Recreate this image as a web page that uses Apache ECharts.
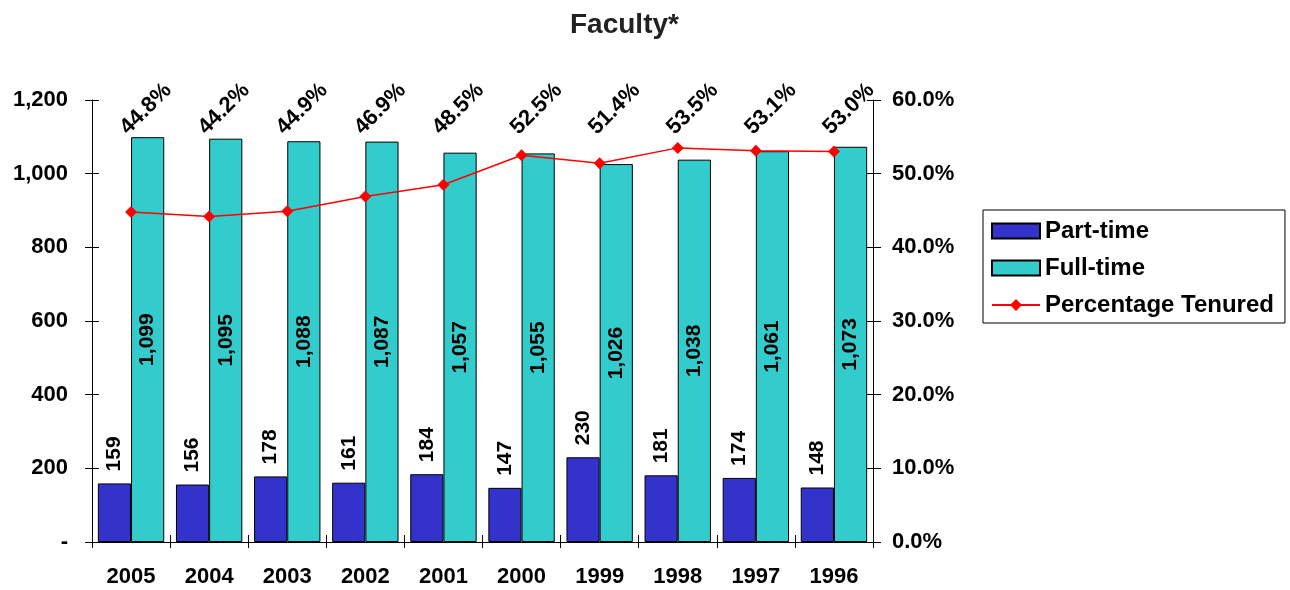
<!DOCTYPE html>
<html>
<head>
<meta charset="utf-8">
<script src="https://cdn.jsdelivr.net/npm/echarts@6/dist/echarts.min.js"></script>
<style>
html,body{margin:0;padding:0;background:#fff;}
#chart{width:1290px;height:590px;}
</style>
</head>
<body>
<div id="chart"></div>
<script>
const years = ['2005','2004','2003','2002','2001','2000','1999','1998','1997','1996'];
const partTime = [159,156,178,161,184,147,230,181,174,148];
const fullTime = [1099,1095,1088,1087,1057,1055,1026,1038,1061,1073];
const tenured = [44.8,44.2,44.9,46.9,48.5,52.5,51.4,53.5,53.1,53.0];
const leftTicks = [0,200,400,600,800,1000,1200];
const rightTicks = [0,10,20,30,40,50,60];

const FONT = 'Liberation Sans, Arial, sans-serif';
const fmtNum = v => v === 0 ? '-' : v.toLocaleString('en-US');

const chart = echarts.init(document.getElementById('chart'));
chart.setOption({
  animation: false,
  backgroundColor: '#ffffff',
  textStyle: {fontFamily: FONT},
  title: {
    text: 'Faculty*', left: 565, top: 6,
    textStyle: {fontFamily: FONT, fontSize: 28, fontWeight: 'bold', color: '#222'}
  },
  legend: {
    data: [
      {name: 'Part-time', icon: 'rect'},
      {name: 'Full-time', icon: 'rect'},
      {name: 'Percentage Tenured'}
    ],
    orient: 'vertical', left: 983, top: 210,
    padding: [8, 11, 5, 8],
    itemGap: 11, itemWidth: 48, itemHeight: 15,
    borderColor: '#000', borderWidth: 1,
    textStyle: {fontFamily: FONT, fontSize: 24, fontWeight: 'bold', color: '#000', lineHeight: 26}
  },
  grid: {left: 92, right: 417, top: 100, bottom: 48, containLabel: false},
  xAxis: [{
    type: 'category', data: years,
    axisLine: {lineStyle: {color: '#000', width: 1}},
    axisTick: {show: true, length: 6, lineStyle: {color: '#000'}},
    axisLabel: {fontFamily: FONT, fontSize: 22, fontWeight: 'bold', color: '#000', margin: 24},
    splitLine: {show: false}
  },{
    type: 'category', data: years, position: 'bottom',
    axisLine: {show: false},
    axisTick: {show: true, inside: true, length: 7, lineStyle: {color: '#000'}},
    axisLabel: {show: false}, splitLine: {show: false}
  }],
  yAxis: [{
    type: 'value', min: 0, max: 1200, interval: 200,
    axisLine: {show: true, lineStyle: {color: '#000'}},
    axisTick: {show: true, length: 7, lineStyle: {color: '#000'}},
    axisLabel: {fontFamily: FONT, fontSize: 22, fontWeight: 'bold', color: '#000', margin: 24,
      formatter: v => fmtNum(v)},
    splitLine: {show: false}
  },{
    type: 'value', min: 0, max: 60, interval: 10, position: 'right',
    axisLine: {show: true, lineStyle: {color: '#000'}},
    axisTick: {show: true, length: 8, lineStyle: {color: '#000'}},
    axisLabel: {fontFamily: FONT, fontSize: 22, fontWeight: 'bold', color: '#000', margin: 19,
      formatter: v => v.toFixed(1) + '%'},
    splitLine: {show: false}
  },{
    type: 'value', min: 0, max: 1200, interval: 200, position: 'left',
    axisLine: {show: false},
    axisTick: {show: true, inside: true, length: 7, lineStyle: {color: '#000'}},
    axisLabel: {show: false}, splitLine: {show: false}
  },{
    type: 'value', min: 0, max: 60, interval: 10, position: 'right',
    axisLine: {show: false},
    axisTick: {show: true, inside: true, length: 6, lineStyle: {color: '#000'}},
    axisLabel: {show: false}, splitLine: {show: false}
  }],
  series: [{
    name: 'Part-time', type: 'bar', data: partTime,
    barGap: '0%', barCategoryGap: '15%',
    itemStyle: {color: '#3333cc', borderColor: '#000', borderWidth: 1},
    label: {
      show: true, position: 'top', rotate: 90, align: 'left', verticalAlign: 'middle',
      distance: 12, fontFamily: FONT, fontSize: 21, fontWeight: 'bold', color: '#000',
      formatter: p => fmtNum(p.value)
    }
  },{
    name: 'Full-time', type: 'bar', data: fullTime,
    itemStyle: {color: '#33cccc', borderColor: '#000', borderWidth: 1},
    label: {
      show: true, position: 'inside', rotate: 90, align: 'center', verticalAlign: 'middle',
      fontFamily: FONT, fontSize: 21, fontWeight: 'bold', color: '#000',
      formatter: p => fmtNum(p.value)
    }
  },{
    name: 'Percentage Tenured', type: 'line', yAxisIndex: 1, data: tenured,
    color: '#ff0000',
    lineStyle: {color: '#ff0000', width: 1.5},
    itemStyle: {color: '#ff0000'},
    symbol: 'diamond', symbolSize: 12, showSymbol: true
  },{
    name: 'tenuredLabels', type: 'custom', yAxisIndex: 1,
    data: years.map((y, i) => [i, tenured[i]]),
    silent: true,
    renderItem: function (params, api) {
      const pt = api.coord([api.value(0), api.value(1)]);
      const band = api.size([1, 0])[0];
      return {
        type: 'text',
        x: pt[0] + band * 0.19,
        y: params.coordSys.y + 9,
        rotation: Math.PI / 4,
        style: {
          text: api.value(1).toFixed(1) + '%',
          fontFamily: FONT, fontSize: 22, fontWeight: 'bold', fill: '#000',
          align: 'center', verticalAlign: 'middle'
        }
      };
    }
  }]
});
</script>
</body>
</html>
